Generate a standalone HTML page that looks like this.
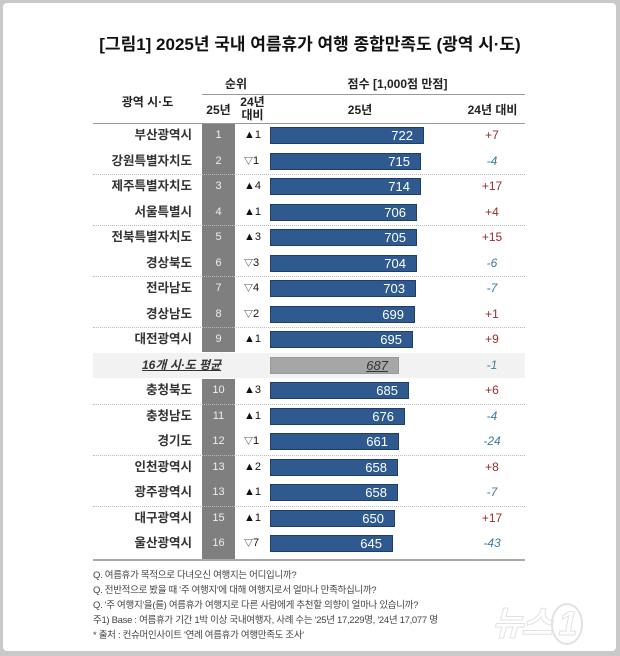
<!DOCTYPE html>
<html><head><meta charset="utf-8"><style>
*{margin:0;padding:0;box-sizing:border-box}
body{width:620px;height:656px;background:#c9c9c9;position:relative;overflow:hidden;font-family:"Liberation Sans","Noto Sans CJK KR",sans-serif;color:#222}
.card{position:absolute;left:3px;top:3px;width:613px;height:648px;background:#fff;border-radius:4px}
.a{position:absolute;white-space:nowrap}
.c{height:17px;line-height:17px}
.title{left:0;width:620px;top:30px;text-align:center;font-size:17px;font-weight:bold;color:#111}
.h{font-size:12px;font-weight:bold;color:#222;text-align:center;line-height:14px}
.name{font-size:12.5px;font-weight:bold;text-align:right;width:120px;left:72px;color:#333}
.rank{font-size:11px;color:#eee;text-align:center;width:33px;left:202px}
.arr{font-size:11px;left:244px;color:#111}
.bar{left:270px;height:17px;background:#2f5a8f;border:1px solid #1f3f66;color:#fff;font-size:13px;text-align:right;padding-right:10px;line-height:15px}
.d{font-size:12px;text-align:center;width:40px;left:472px}
.p{color:#9b2a2e}.m{color:#3f7c9e;font-style:italic}
.dot{left:93px;width:432px;border-top:1px dotted #bbb;height:0}
.note{left:93px;font-size:9.5px;color:#444;letter-spacing:-0.3px;line-height:12px}
</style></head><body>
<div class="card"></div>
<div class="a title">[그림1] 2025년 국내 여름휴가 여행 종합만족도 (광역 시·도)</div>
<div class="a h" style="left:202px;width:68px;top:77px">순위</div>
<div class="a h" style="left:270px;width:255px;top:77px">점수 [1,000점 만점]</div>
<div class="a" style="left:202px;top:94px;width:323px;border-top:1px solid #999"></div>
<div class="a h" style="left:93px;width:109px;top:95px">광역 시·도</div>
<div class="a h" style="left:202px;width:33px;top:103px">25년</div>
<div class="a h" style="left:235px;width:35px;top:96px;line-height:13px">24년<br>대비</div>
<div class="a h" style="left:270px;width:180px;top:103px">25년</div>
<div class="a h" style="left:450px;width:85px;top:103px">24년 대비</div>
<div class="a" style="left:93px;top:123px;width:432px;border-top:1px solid #999"></div>
<div class="a" style="left:202px;top:124px;width:33px;height:228px;background:#7f7f7f"></div>
<div class="a" style="left:202px;top:379px;width:33px;height:180px;background:#7f7f7f"></div>
<div class="a" style="left:93px;top:353px;width:432px;height:25px;background:#f2f2f2"></div>
<div class="a" style="left:93px;top:559px;width:432px;border-top:2px solid #aaa"></div>
<div id="rows"></div>
<div class="a c" style="left:142px;top:357px;font-size:12px;font-style:italic;text-decoration:underline;font-weight:bold;color:#333">16개 시·도 평균</div>
<div class="a bar" style="top:357px;background:#a6a6a6;border-color:#999;color:#333;font-style:italic;text-decoration:underline;width:129px">687</div>
<div class="a d m c" style="top:357px">-1</div>
<div class="a note" style="top:570px">Q. 여름휴가 목적으로 다녀오신 여행지는 어디입니까?</div>
<div class="a note" style="top:585px">Q. 전반적으로 봤을 때 '주 여행지'에 대해 여행지로서 얼마나 만족하십니까?</div>
<div class="a note" style="top:600px">Q. '주 여행지'을(를) 여름휴가 여행지로 다른 사람에게 추천할 의향이 얼마나 있습니까?</div>
<div class="a note" style="top:615px">주1) Base : 여름휴가 기간 1박 이상 국내여행자, 사례 수는 '25년 17,229명, '24년 17,077 명</div>
<div class="a note" style="top:630px">* 출처 : 컨슈머인사이트 '연례 여름휴가 여행만족도 조사'</div>
<div class="a" style="left:492px;top:596px;font-size:34px;font-weight:bold;font-style:italic;color:#fff;-webkit-text-stroke:1px #e2e2e2;letter-spacing:-2px">뉴스<span style="border:2px solid #e2e2e2;border-radius:50%;padding:0 6px">1</span></div>
<script>
var d=[["부산광역시",1,"▲1",722,"+7"],["강원특별자치도",2,"▽1",715,"-4"],["제주특별자치도",3,"▲4",714,"+17"],["서울특별시",4,"▲1",706,"+4"],["전북특별자치도",5,"▲3",705,"+15"],["경상북도",6,"▽3",704,"-6"],["전라남도",7,"▽4",703,"-7"],["경상남도",8,"▽2",699,"+1"],["대전광역시",9,"▲1",695,"+9"],
["충청북도",10,"▲3",685,"+6"],["충청남도",11,"▲1",676,"-4"],["경기도",12,"▽1",661,"-24"],["인천광역시",13,"▲2",658,"+8"],["광주광역시",13,"▲1",658,"-7"],["대구광역시",15,"▲1",650,"+17"],["울산광역시",16,"▽7",645,"-43"]];
var h="";
d.forEach(function(r,i){
 var top=123+i*25.5+(i>=9?25.5:0);var t=top+12.75-8.5;
 h+='<div class="a c name" style="top:'+t+'px">'+r[0]+'</div>';
 h+='<div class="a c rank" style="top:'+t+'px">'+r[1]+'</div>';
 var ar=r[2][0]=="▽"?'<span style="font-size:9px">▽</span>'+r[2].slice(1):r[2];
 h+='<div class="a c arr" style="top:'+t+'px">'+ar+'</div>';
 h+='<div class="a bar" style="top:'+t+'px;width:'+Math.round((r[3]-340)*0.403)+'px">'+r[3]+'</div>';
 h+='<div class="a c d '+(r[4][0]=="+"?"p":"m")+'" style="top:'+t+'px">'+r[4]+'</div>';
 if(i==1||i==3||i==5||i==7||i==9||i==11||i==13) h+='<div class="a dot" style="top:'+(top+25.5)+'px"></div>';
});
document.getElementById("rows").innerHTML=h;
</script>
</body></html>
